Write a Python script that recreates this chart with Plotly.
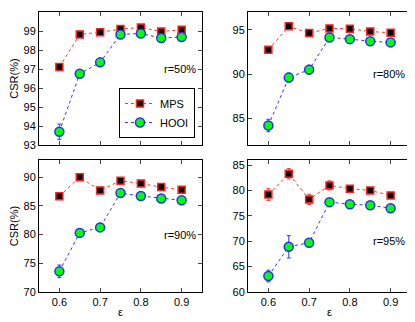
import plotly.graph_objects as go

eps = [0.6, 0.65, 0.7, 0.75, 0.8, 0.85, 0.9]

# r = 50%
mps_50 = [97.1, 98.82, 98.93, 99.1, 99.18, 98.97, 99.07]
mps_50_err = [0.12, 0.15, 0.08, 0.15, 0.12, 0.15, 0.12]
hooi_50 = [93.7, 96.75, 97.35, 98.82, 98.87, 98.63, 98.68]
hooi_50_err = [0.4, 0.2, 0.18, 0.12, 0.1, 0.15, 0.1]

# r = 80%
mps_80 = [92.74, 95.38, 94.62, 95.15, 95.1, 94.8, 94.66]
mps_80_err = [0.3, 0.2, 0.25, 0.3, 0.25, 0.2, 0.2]
hooi_80 = [84.2, 89.6, 90.5, 94.13, 93.94, 93.7, 93.57]
hooi_80_err = [0.7, 0.5, 0.5, 0.3, 0.3, 0.2, 0.2]

# r = 90%
mps_90 = [86.7, 90.0, 87.7, 89.37, 88.9, 88.28, 87.8]
mps_90_err = [0.6, 0.3, 0.5, 0.3, 0.4, 0.4, 0.3]
hooi_90 = [73.6, 80.3, 81.26, 87.24, 86.72, 86.3, 85.98]
hooi_90_err = [1.1, 0.6, 0.7, 0.4, 0.5, 0.5, 0.6]

# r = 95%
mps_95 = [79.2, 83.3, 78.24, 81.0, 80.34, 80.0, 79.03]
mps_95_err = [1.15, 1.0, 1.0, 0.9, 0.5, 0.3, 0.3]
hooi_95 = [63.15, 68.9, 69.7, 77.7, 77.3, 77.1, 76.5]
hooi_95_err = [1.15, 2.2, 0.5, 0.7, 0.4, 0.4, 0.7]

labels = ["r=50%", "r=80%", "r=90%", "r=95%"]
y_ranges = [[93, 100], [82, 97], [70, 93], [60, 86]]
y_ticks = [list(range(93, 101)), [85, 90, 95], [70, 75, 80, 85, 90], [60, 65, 70, 75, 80, 85]]
label_y = [97.0, 90.0, 80.0, 70.0]

panels = [
    (mps_50, mps_50_err, hooi_50, hooi_50_err),
    (mps_80, mps_80_err, hooi_80, hooi_80_err),
    (mps_90, mps_90_err, hooi_90, hooi_90_err),
    (mps_95, mps_95_err, hooi_95, hooi_95_err),
]

# page body has an 8px margin, so the figure sits at (8, 8) in the window
OFF = 8
W, H = 415 - OFF, 322 - OFF


def px_x(p):
    return (p - OFF) / W


def px_y(p):
    return 1 - (p - OFF) / H


x_doms = [[px_x(39), px_x(202)], [px_x(248), px_x(411)]]
y_doms = [[px_y(145), px_y(12)], [px_y(292), px_y(160)]]

font = "Liberation Sans, Arial, sans-serif"
fig = go.Figure()
layout = {}

for i, (mps, mps_err, hooi, hooi_err) in enumerate(panels):
    row, col = divmod(i, 2)
    n = "" if i == 0 else str(i + 1)
    xa, ya = "x" + n, "y" + n
    fig.add_trace(go.Scatter(
        x=eps, y=mps, xaxis=xa, yaxis=ya, name="MPS", showlegend=(i == 0),
        mode="lines+markers",
        line=dict(color="#ff3333", width=1, dash="dot"),
        marker=dict(symbol="square", size=7, color="black",
                    line=dict(color="#ff2020", width=1.5)),
        error_y=dict(type="data", array=mps_err, color="#ff3333", thickness=1, width=2),
    ))
    fig.add_trace(go.Scatter(
        x=eps, y=hooi, xaxis=xa, yaxis=ya, name="HOOI", showlegend=(i == 0),
        mode="lines+markers",
        line=dict(color="#3333ff", width=1, dash="dot"),
        marker=dict(symbol="circle", size=9, color="#00ff00",
                    line=dict(color="#2a2aff", width=1.5)),
        error_y=dict(type="data", array=hooi_err, color="#3333ff", thickness=1, width=2),
    ))
    layout["xaxis" + n] = dict(
        domain=x_doms[col], anchor=ya, range=[0.55, 0.95],
        tickvals=[0.6, 0.7, 0.8, 0.9], showticklabels=(row == 1),
        ticks="inside", ticklen=4, showline=True, mirror="ticks",
        linecolor="black", linewidth=1, showgrid=False, zeroline=False,
        tickfont=dict(size=11, color="black"),
        title=dict(text="ε" if row == 1 else "", font=dict(size=11), standoff=1),
        automargin=False,
    )
    layout["yaxis" + n] = dict(
        domain=y_doms[row], anchor=xa, range=y_ranges[i],
        tickvals=y_ticks[i], ticks="inside", ticklen=4, showline=True,
        mirror="ticks", linecolor="black", linewidth=1, showgrid=False,
        zeroline=False, tickfont=dict(size=11, color="black"),
        title=dict(text="CSR(%)" if col == 0 else "", font=dict(size=11), standoff=4),
        automargin=False,
    )
    fig.add_annotation(x=0.94, y=label_y[i], xref=xa, yref=ya, text=labels[i],
                       showarrow=False, xanchor="right",
                       font=dict(size=11, color="black"))

fig.update_layout(
    **layout,
    width=W, height=H,
    margin=dict(l=0, r=0, t=0, b=0),
    paper_bgcolor="white", plot_bgcolor="white",
    font=dict(family=font, color="black"),
    legend=dict(x=px_x(195), y=px_y(138), xanchor="right", yanchor="bottom",
                bordercolor="black", borderwidth=1, bgcolor="white",
                font=dict(size=11), tracegroupgap=0, itemwidth=30),
)

fig.write_html("out.html")
